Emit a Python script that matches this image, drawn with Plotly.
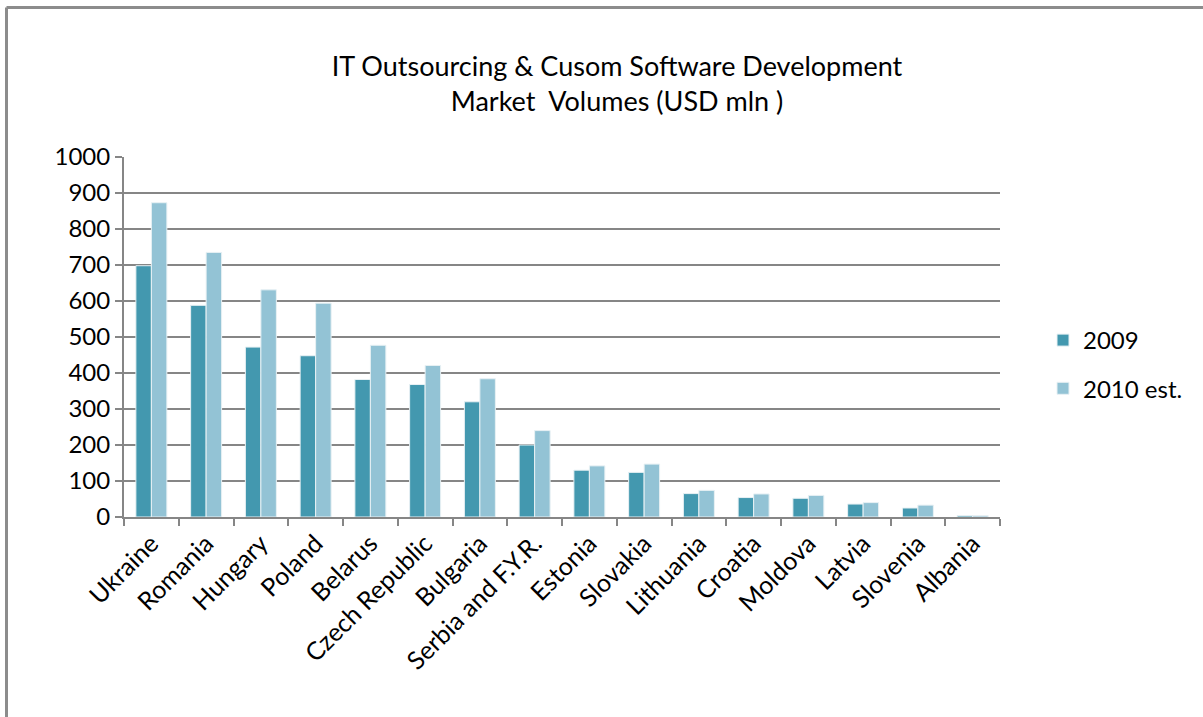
import plotly.graph_objects as go

countries = ["Ukraine", "Romania", "Hungary", "Poland", "Belarus", "Czech Republic",
             "Bulgaria", "Serbia and F.Y.R.", "Estonia", "Slovakia", "Lithuania",
             "Croatia", "Moldova", "Latvia", "Slovenia", "Albania"]
v2009 = [698, 588, 472, 448, 382, 368, 320, 200, 130, 124, 65, 54, 52, 36, 25, 4]
v2010 = [873, 735, 631, 594, 477, 421, 384, 240, 142, 147, 74, 64, 60, 40, 33, 4]
series_names = ["2009", "2010 est."]
y_ticks = [0, 100, 200, 300, 400, 500, 600, 700, 800, 900, 1000]

FONT = "Lato"
GRID = "#868686"

fig = go.Figure()
fig.add_trace(go.Bar(x=countries, y=v2009, name=series_names[0], legendgroup="a",
                     marker=dict(color="#4398AF", line=dict(color="#E8F1F4", width=1))))
fig.add_trace(go.Bar(x=countries, y=v2010, name=series_names[1], legendgroup="b",
                     marker=dict(color="#93C3D5", line=dict(color="#E8F1F4", width=1))))

W, H = 1203, 717
L, R, T, B = 124, 1000, 157, 517

fig.update_layout(
    width=W, height=H,
    margin=dict(l=L, r=W - R, t=T, b=H - B, autoexpand=False),
    paper_bgcolor="white", plot_bgcolor="white",
    font=dict(family=FONT, size=24, color="black"),
    barmode="group", bargap=0.434, bargroupgap=0,
    title=dict(text="IT Outsourcing & Cusom Software Development<br>Market  Volumes (USD mln )",
               x=617 / W, xanchor="center", y=1 - 76 / H, yanchor="top",
               font=dict(family=FONT, size=27, color="black")),
    showlegend=True,
    legend=dict(x=(1043 - L) / (R - L), xanchor="left", y=(517 - 318) / 360, yanchor="top",
                font=dict(family=FONT, size=24, color="black"),
                traceorder="grouped", tracegroupgap=14, bgcolor="rgba(0,0,0,0)"),
    xaxis=dict(type="category", tickangle=-45, showline=True, linecolor=GRID, linewidth=2,
               ticks="outside", tickson="boundaries", ticklen=7, tickwidth=2, tickcolor=GRID,
               showgrid=False, tickfont=dict(family=FONT, size=25, color="black")),
    yaxis=dict(range=[0, 1000], tickvals=y_ticks, showline=True, linecolor=GRID, linewidth=2,
               ticks="outside", ticklen=7, tickwidth=2, tickcolor=GRID,
               showgrid=True, gridcolor=GRID, gridwidth=2, zeroline=False,
               tickfont=dict(family=FONT, size=24, color="black")),
)

# outer chart frame (only top and left edges visible in the reference)
fx = lambda px: (px - L) / (R - L)
fy = lambda py: (B - py) / (B - T)
fig.add_shape(type="line", xref="paper", yref="paper", x0=fx(6.5), x1=fx(1300), y0=fy(7.5), y1=fy(7.5),
              line=dict(color="#8C8C8C", width=3))
fig.add_shape(type="line", xref="paper", yref="paper", x0=fx(6.5), x1=fx(6.5), y0=fy(7.5), y1=fy(800),
              line=dict(color="#8C8C8C", width=3))

fig.write_html("out.html", config={"displayModeBar": False},
               post_script="document.body.style.margin='0px';")
